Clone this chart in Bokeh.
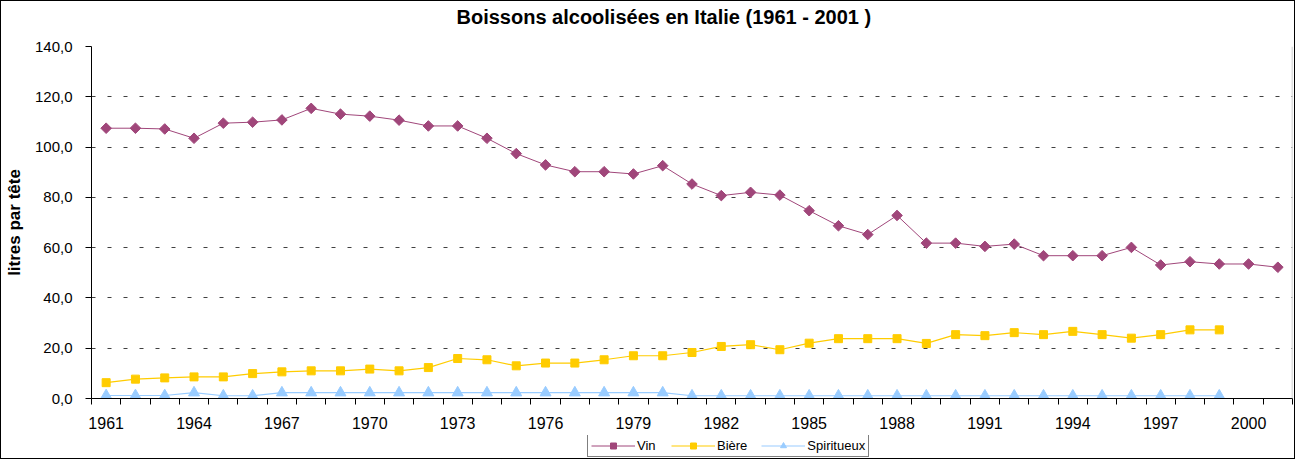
import math
from bokeh.plotting import figure
from bokeh.layouts import column
from bokeh.models import (FixedTicker, Legend, LegendItem, Span, Range1d,
                          ColumnDataSource, Title)
from bokeh.embed import file_html
from bokeh.resources import INLINE

nan = float("nan")

# ---------------- data ----------------
years = list(range(1961, 2002))
vin = [107.5, 107.5, 107.2, 103.5, 109.5, 109.9, 110.8, 115.4, 113.1, 112.3,
       110.7, 108.4, 108.4, 103.5, 97.4, 92.9, 90.2, 90.2, 89.3, 92.6,
       85.3, 80.7, 82.0, 80.9, 74.7, 68.7, 65.2, 72.8, 61.8, 61.8,
       60.5, 61.4, 56.8, 56.8, 56.8, 60.1, 53.1, 54.4, 53.5, 53.5,
       52.2]
biere = [6.3, 7.7, 8.2, 8.6, 8.6, 9.9, 10.6, 11.0, 11.0, 11.7,
         11.0, 12.3, 15.9, 15.4, 13.0, 14.1, 14.1, 15.4, 17.0, 17.0,
         18.3, 20.7, 21.4, 19.4, 22.0, 23.8, 23.8, 23.8, 21.9, 25.4,
         25.0, 26.2, 25.4, 26.7, 25.4, 24.0, 25.4, 27.3, 27.3, nan,
         nan]
spiritueux = [1.2, 1.2, 1.2, 2.3, 1.1, 1.1, 2.3, 2.3, 2.3, 2.3,
              2.3, 2.3, 2.3, 2.3, 2.3, 2.3, 2.3, 2.3, 2.3, 2.3,
              1.1, 1.1, 1.1, 1.1, 1.1, 1.1, 1.1, 1.1, 1.1, 1.1,
              1.1, 1.1, 1.1, 1.1, 1.1, 1.1, 1.1, 1.1, 1.1, nan,
              nan]
series_names = ["Vin", "Bière", "Spiritueux"]
y_ticks = [0, 20, 40, 60, 80, 100, 120, 140]
y_tick_labels = ["0,0", "20,0", "40,0", "60,0", "80,0", "100,0", "120,0", "140,0"]
x_label_years = list(range(1961, 2001, 3))
title_text = "Boissons alcoolisées en Italie  (1961  - 2001 )"
y_axis_label = "litres par tête"

# ---------------- style ----------------
FONT = "Liberation Sans"
C_VIN = "#A0467A"
C_BIERE = "#FFCC00"
C_SPIR = "#99CCFF"

p = figure(width=1293, height=434, output_backend="svg", toolbar_location=None,
           x_range=Range1d(years[0] - 0.5, years[-1] + 0.5),
           y_range=Range1d(y_ticks[0], y_ticks[-1]),
           min_border_left=87, min_border_right=2, min_border_top=45,
           min_border_bottom=37)

p.background_fill_color = "white"
p.border_fill_color = "white"
p.outline_line_color = None

# spacer between plot area and title, then the title itself
p.add_layout(Title(text=" ", text_font=FONT, text_font_size="12px", standoff=0), "above")
p.add_layout(Title(text=title_text, align="left", offset=365, standoff=5,
                   text_color="black", text_font=FONT, text_font_size="20px",
                   text_font_style="bold"), "above")

# y axis
yax = p.yaxis[0]
yax.ticker = FixedTicker(ticks=y_ticks)
yax.major_label_overrides = {t: l for t, l in zip(y_ticks, y_tick_labels)}
yax.major_tick_out = 6
yax.major_tick_in = 0
yax.minor_tick_out = 0
yax.minor_tick_in = 0
yax.major_label_standoff = 13
yax.major_label_text_font = FONT
yax.major_label_text_font_size = "15px"
yax.major_label_text_color = "black"
yax.axis_line_color = "black"
yax.major_tick_line_color = "black"
yax.axis_label = y_axis_label
yax.axis_label_text_font = FONT
yax.axis_label_text_font_size = "17px"
yax.axis_label_text_font_style = "bold"
yax.axis_label_text_color = "black"
yax.axis_label_standoff = 8

# x axis
xax = p.xaxis[0]
xax.ticker = FixedTicker(ticks=x_label_years,
                         minor_ticks=[y - 0.5 for y in years] + [years[-1] + 0.5])
xax.major_tick_out = 0
xax.major_tick_in = 0
xax.minor_tick_out = 6
xax.minor_tick_in = 0
xax.minor_tick_line_color = "black"
xax.axis_line_color = "black"
xax.major_label_standoff = 12
xax.major_label_text_font = FONT
xax.major_label_text_font_size = "16px"
xax.major_label_text_color = "black"

# grid
p.xgrid.visible = False
p.ygrid.ticker = FixedTicker(ticks=y_ticks[1:])
p.ygrid.grid_line_color = "black"
p.ygrid.grid_line_alpha = 0.75
p.ygrid.grid_line_dash = "4 12"
p.ygrid.grid_line_width = 1

# plot area right border
p.add_layout(Span(location=years[-1] + 0.5, dimension="height",
                  line_color="#BFBFBF", line_width=1.5))

src = ColumnDataSource(dict(year=years, vin=vin, biere=biere, spir=spiritueux))


def draw(fig):
    l_vin = fig.line("year", "vin", source=src, line_color=C_VIN, line_width=1)
    m_vin = fig.scatter("year", "vin", source=src, marker="square", angle=math.pi / 4,
                        size=7.5, fill_color=C_VIN, line_color=C_VIN)
    l_bi = fig.line("year", "biere", source=src, line_color=C_BIERE, line_width=1.2)
    m_bi = fig.scatter("year", "biere", source=src, marker="square", size=8,
                       fill_color=C_BIERE, line_color=C_BIERE)
    l_sp = fig.line("year", "spir", source=src, line_color=C_SPIR, line_width=1.2)
    m_sp = fig.scatter("year", "spir", source=src, marker="triangle", size=11,
                       fill_color=C_SPIR, line_color=C_SPIR)
    return [(l_vin, m_vin), (l_bi, m_bi), (l_sp, m_sp)]


draw(p)

# legend strip below the chart (its own small canvas so the box is not clipped)
lf = figure(width=1293, height=23, output_backend="svg", toolbar_location=None,
            x_range=Range1d(0, 1), y_range=Range1d(0, 1),
            x_axis_type=None, y_axis_type=None,
            min_border_left=0, min_border_right=0, min_border_top=0,
            min_border_bottom=0)
lf.outline_line_color = None
lf.background_fill_color = "white"
lf.border_fill_color = "white"
lf.grid.visible = False
pairs = draw(lf)

legend = Legend(items=[LegendItem(label=n, renderers=list(r)) for n, r in zip(series_names, pairs)],
                orientation="horizontal", location=(496, 1),
                border_line_color="black", border_line_width=1,
                background_fill_color="white", background_fill_alpha=1,
                padding=3, margin=0, spacing=14,
                glyph_width=44, glyph_height=15, label_height=15,
                label_standoff=2, label_text_font=FONT,
                label_text_font_size="13px", label_text_color="black")
lf.add_layout(legend)

layout = column(p, lf, spacing=0, styles={"border": "1px solid black"})

open("out.html", "w").write(file_html(layout, INLINE, title="Boissons alcoolisées en Italie"))
